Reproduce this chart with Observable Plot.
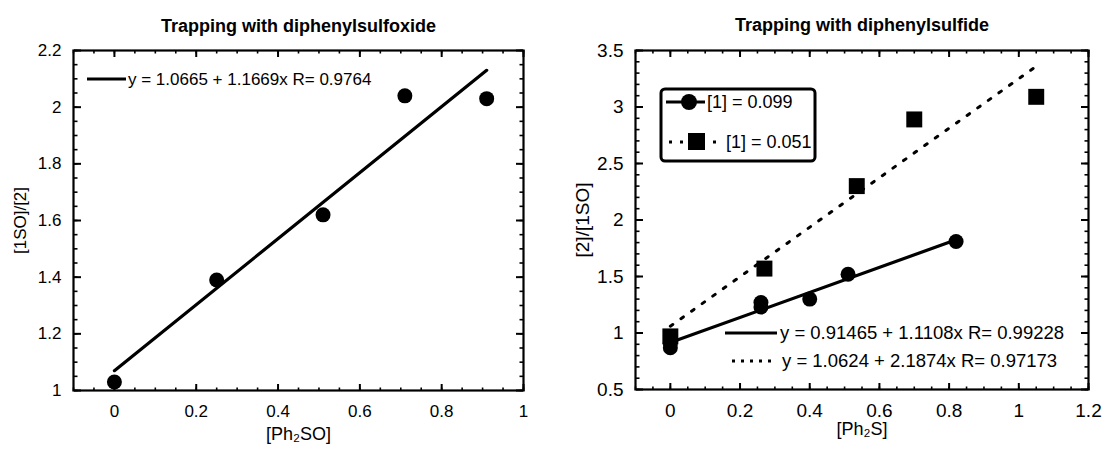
<!DOCTYPE html>
<html><head><meta charset="utf-8">
<script src="https://cdn.jsdelivr.net/npm/d3@7"></script>
<script src="https://cdn.jsdelivr.net/npm/@observablehq/plot@0.6"></script>
<style>
body{margin:0;background:#fff;font-family:"Liberation Sans",Arial,sans-serif;}
#wrap{position:relative;width:1103px;height:455px;overflow:hidden}
#left{position:absolute;left:0;top:0}
#right{position:absolute;left:551px;top:0}
#overlay{position:absolute;left:0;top:0;pointer-events:none}
</style></head><body>
<div id="wrap"><div id="left"></div><div id="right"></div><svg id="overlay" width="1103" height="455"></svg></div>
<script>
// ---------- data ----------
// Left: Trapping with diphenylsulfoxide
const soTitle = "Trapping with diphenylsulfoxide";
const soX = [0, 0.25, 0.51, 0.71, 0.91];
const soY = [1.03, 1.39, 1.62, 2.04, 2.03];
const soFitX = [0, 0.91];
const soFitY = [1.07, 2.13];
const soEquation = "y = 1.0665 + 1.1669x R= 0.9764";
const soXTicks = [0, 0.2, 0.4, 0.6, 0.8, 1];
const soXTickLabels = ["0", "0.2", "0.4", "0.6", "0.8", "1"];
const soYTicks = [1, 1.2, 1.4, 1.6, 1.8, 2, 2.2];
const soYTickLabels = ["1", "1.2", "1.4", "1.6", "1.8", "2", "2.2"];

// Right: Trapping with diphenylsulfide
const sTitle = "Trapping with diphenylsulfide";
const sAName = "[1] = 0.099";
const sAX = [0, 0, 0.26, 0.26, 0.40, 0.51, 0.82];
const sAY = [0.87, 0.91, 1.23, 1.27, 1.30, 1.52, 1.81];
const sAFitX = [0, 0.82];
const sAFitY = [0.915, 1.825];
const sAEquation = "y = 0.91465 + 1.1108x R= 0.99228";
const sBName = "[1] = 0.051";
const sBX = [0, 0.27, 0.535, 0.70, 1.05];
const sBY = [0.97, 1.57, 2.30, 2.89, 3.09];
const sBFitX = [0, 1.05];
const sBFitY = [1.06, 3.36];
const sBEquation = "y = 1.0624 + 2.1874x R= 0.97173";
const sXTicks = [0, 0.2, 0.4, 0.6, 0.8, 1, 1.2];
const sXTickLabels = ["0", "0.2", "0.4", "0.6", "0.8", "1", "1.2"];
const sYTicks = [0.5, 1, 1.5, 2, 2.5, 3, 3.5];
const sYTickLabels = ["0.5", "1", "1.5", "2", "2.5", "3", "3.5"];

// ---------- helpers ----------
const pts = (xs, ys) => xs.map((x, i) => ({x, y: ys[i]}));
function minors(domain, step) {
  const out = [];
  const n = Math.round((domain[1] - domain[0]) / step);
  for (let i = 0; i <= n; i++) out.push(+(domain[0] + i * step).toFixed(6));
  return out;
}
function inwardTicks(ticks, size, sw, axis) {
  const blank = () => "";
  const o = {ticks, tickSize: size, tickFormat: blank, label: null, strokeWidth: sw};
  return axis === "x"
    ? [Plot.axisX({...o, anchor: "top", frameAnchor: "bottom"}), Plot.axisX({...o, anchor: "bottom", frameAnchor: "top"})]
    : [Plot.axisY({...o, anchor: "right", frameAnchor: "left"}), Plot.axisY({...o, anchor: "left", frameAnchor: "right"})];
}
function boxAxes(c) {
  const fmtX = d => c.xLabels[c.xTicks.indexOf(d)];
  const fmtY = d => c.yLabels[c.yTicks.indexOf(d)];
  return [
    ...inwardTicks(c.xMinor, 3.5, 1.6, "x"),
    ...inwardTicks(c.xTicks, 7, 2, "x"),
    ...inwardTicks(c.yMinor, 3.5, 1.6, "y"),
    ...inwardTicks(c.yTicks, 7, 2, "y"),
    Plot.axisX({anchor: "bottom", ticks: c.xTicks, tickSize: 0, tickPadding: c.xPad, tickFormat: fmtX,
      label: null, fontSize: c.fs}),
    Plot.axisY({anchor: "left", ticks: c.yTicks, tickSize: 0, tickPadding: 12, tickFormat: fmtY,
      label: c.yLabel, labelAnchor: "center", labelArrow: "none", labelOffset: c.yLabelOffset, fontSize: c.fs}),
    Plot.text([c.xLabel], {text: d => d, frameAnchor: "bottom", dy: c.xLabelOffset, fontSize: c.xfs}),
    Plot.frame({strokeWidth: 2.2})
  ];
}

// ---------- left panel ----------
const soXDomain = [-0.1, 1], soYDomain = [1, 2.2];
const left = Plot.plot({
  width: 551, height: 455,
  marginLeft: 73, marginRight: 28, marginTop: 50, marginBottom: 65,
  style: {fontFamily: "Liberation Sans, Arial, sans-serif", fontSize: "17px", color: "#000", background: "#fff"},
  x: {domain: soXDomain},
  y: {domain: soYDomain},
  marks: [
    ...boxAxes({xTicks: soXTicks, xLabels: soXTickLabels, xMinor: minors(soXDomain, 0.05),
      yTicks: soYTicks, yLabels: soYTickLabels, yMinor: minors(soYDomain, 0.05),
      xLabel: "[Ph₂SO]", yLabel: "[1SO]/[2]", fs: 17, xfs: 18, xPad: 14, xLabelOffset: 49, yLabelOffset: 60}),
    Plot.line(pts(soFitX, soFitY), {x: "x", y: "y", stroke: "#000", strokeWidth: 3.2}),
    Plot.dot(pts(soX, soY), {x: "x", y: "y", r: 7.5, fill: "#000", stroke: "none"}),
    Plot.text([soTitle], {text: d => d, frameAnchor: "top", dy: -31, fontWeight: "bold", fontSize: 18})
  ]
});
document.getElementById("left").append(left);

// ---------- right panel ----------
const sXDomain = [-0.1, 1.2], sYDomain = [0.5, 3.5];
const right = Plot.plot({
  width: 552, height: 455,
  marginLeft: 84, marginRight: 15, marginTop: 50, marginBottom: 66,
  style: {fontFamily: "Liberation Sans, Arial, sans-serif", fontSize: "19px", color: "#000", background: "#fff"},
  x: {domain: sXDomain},
  y: {domain: sYDomain},
  marks: [
    ...boxAxes({xTicks: sXTicks, xLabels: sXTickLabels, xMinor: minors(sXDomain, 0.05),
      yTicks: sYTicks, yLabels: sYTickLabels, yMinor: minors(sYDomain, 0.1),
      xLabel: "[Ph₂S]", yLabel: "[2]/[1SO]", fs: 19, xfs: 18, xPad: 14, xLabelOffset: 45, yLabelOffset: 60}),
    Plot.line(pts(sBFitX, sBFitY), {x: "x", y: "y", stroke: "#000", strokeWidth: 3, strokeDasharray: "3,10"}),
    Plot.line(pts(sAFitX, sAFitY), {x: "x", y: "y", stroke: "#000", strokeWidth: 3.2}),
    Plot.dot(pts(sBX, sBY), {x: "x", y: "y", symbol: "square", r: 9, fill: "#000", stroke: "none"}),
    Plot.dot(pts(sAX, sAY), {x: "x", y: "y", r: 7.5, fill: "#000", stroke: "none"}),
    Plot.text([sTitle], {text: d => d, frameAnchor: "top", dy: -32, fontWeight: "bold", fontSize: 18})
  ]
});
document.getElementById("right").append(right);

// ---------- legends / fit keys (overlay) ----------
const ov = d3.select("#overlay").style("font-family", "Liberation Sans, Arial, sans-serif");
function key(x1, x2, y, dashed, text, tx, fs) {
  ov.append("line").attr("x1", x1).attr("x2", x2).attr("y1", y).attr("y2", y)
    .attr("stroke", "#000").attr("stroke-width", 2.8)
    .attr("stroke-dasharray", dashed ? "3,6" : null);
  ov.append("text").attr("x", tx).attr("y", y).attr("dy", "0.35em").attr("font-size", fs).text(text);
}
key(87, 126, 79, false, soEquation, 128, 17);
key(725, 777, 333, false, sAEquation, 780, 18.5);
key(732, 777, 361, true, sBEquation, 782, 18.5);

// series legend box
ov.append("rect").attr("x", 661).attr("y", 89).attr("width", 154).attr("height", 72).attr("rx", 4)
  .attr("fill", "#fff").attr("stroke", "#000").attr("stroke-width", 3);
ov.append("line").attr("x1", 666).attr("x2", 705).attr("y1", 102).attr("y2", 102).attr("stroke", "#000").attr("stroke-width", 2.8);
ov.append("circle").attr("cx", 689).attr("cy", 102).attr("r", 8).attr("fill", "#000");
ov.append("text").attr("x", 707).attr("y", 102).attr("dy", "0.35em").attr("font-size", 18).text(sAName);
ov.append("line").attr("x1", 669).attr("x2", 721).attr("y1", 142).attr("y2", 142).attr("stroke", "#000").attr("stroke-width", 2.8).attr("stroke-dasharray", "3,8");
ov.append("rect").attr("x", 688).attr("y", 133).attr("width", 17).attr("height", 17).attr("fill", "#000");
ov.append("text").attr("x", 726).attr("y", 142).attr("dy", "0.35em").attr("font-size", 18).text(sBName);
</script>
</body></html>
